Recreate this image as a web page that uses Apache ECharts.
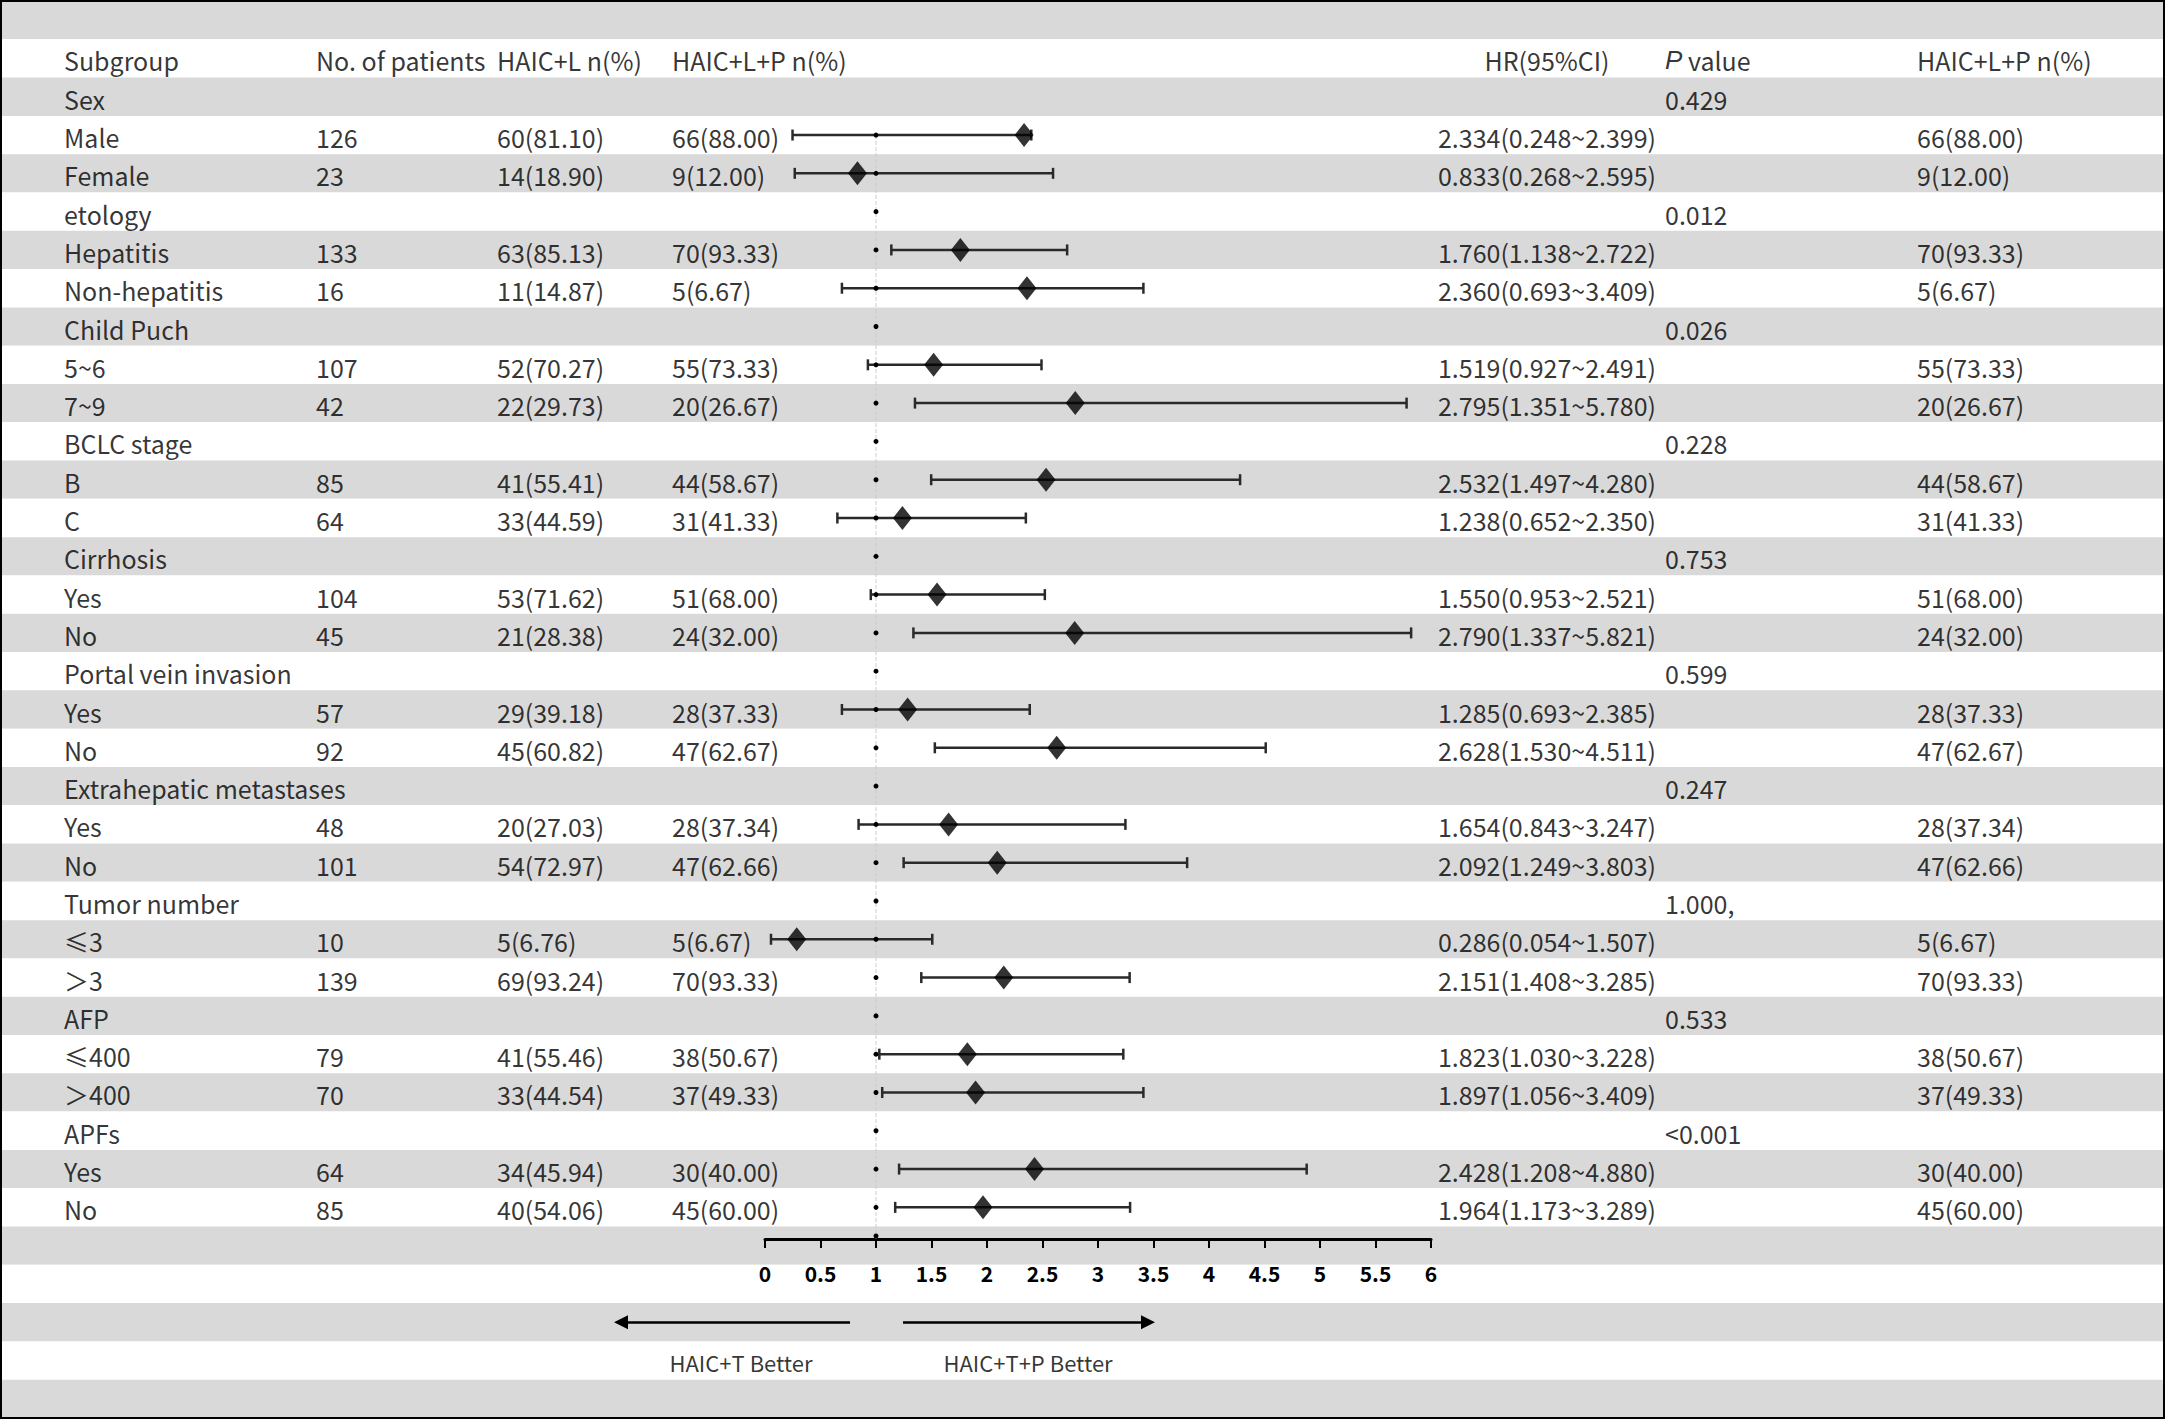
<!DOCTYPE html>
<html><head><meta charset="utf-8">
<script src="https://cdn.jsdelivr.net/npm/echarts@6/dist/echarts.min.js"></script>
<style>html,body{margin:0;padding:0;background:#fff}#c{width:2165px;height:1419px}</style>
</head><body><div id="c"></div>
<script>
// ---------------- data ----------------
const headers = ['Subgroup', 'No. of patients', 'HAIC+L n(%)', 'HAIC+L+P n(%)', 'HR(95%CI)', '{i|P} value', 'HAIC+L+P n(%)'];
const subgroups = ['Sex','Male','Female','etology','Hepatitis','Non-hepatitis','Child Puch','5~6','7~9','BCLC stage','B','C','Cirrhosis','Yes','No','Portal vein invasion','Yes','No','Extrahepatic metastases','Yes','No','Tumor number','≤3','＞3','AFP','≤400','＞400','APFs','Yes','No'];
const patients = [null,126,23,null,133,16,null,107,42,null,85,64,null,104,45,null,57,92,null,48,101,null,10,139,null,79,70,null,64,85];
const haicL = [null,'60(81.10)','14(18.90)',null,'63(85.13)','11(14.87)',null,'52(70.27)','22(29.73)',null,'41(55.41)','33(44.59)',null,'53(71.62)','21(28.38)',null,'29(39.18)','45(60.82)',null,'20(27.03)','54(72.97)',null,'5(6.76)','69(93.24)',null,'41(55.46)','33(44.54)',null,'34(45.94)','40(54.06)'];
const haicLP = [null,'66(88.00)','9(12.00)',null,'70(93.33)','5(6.67)',null,'55(73.33)','20(26.67)',null,'44(58.67)','31(41.33)',null,'51(68.00)','24(32.00)',null,'28(37.33)','47(62.67)',null,'28(37.34)','47(62.66)',null,'5(6.67)','70(93.33)',null,'38(50.67)','37(49.33)',null,'30(40.00)','45(60.00)'];
const hr = [null,2.334,0.833,null,1.760,2.360,null,1.519,2.795,null,2.532,1.238,null,1.550,2.790,null,1.285,2.628,null,1.654,2.092,null,0.286,2.151,null,1.823,1.897,null,2.428,1.964];
const ciLow = [null,0.248,0.268,null,1.138,0.693,null,0.927,1.351,null,1.497,0.652,null,0.953,1.337,null,0.693,1.530,null,0.843,1.249,null,0.054,1.408,null,1.030,1.056,null,1.208,1.173];
const ciHigh = [null,2.399,2.595,null,2.722,3.409,null,2.491,5.780,null,4.280,2.350,null,2.521,5.821,null,2.385,4.511,null,3.247,3.803,null,1.507,3.285,null,3.228,3.409,null,4.880,3.289];
const pValues = ['0.429',null,null,'0.012',null,null,'0.026',null,null,'0.228',null,null,'0.753',null,null,'0.599',null,null,'0.247',null,null,'1.000,',null,null,'0.533',null,null,'<0.001',null,null];
const lastCol = haicLP;
const nullValue = 1;
const xMin = 0, xMax = 6, xStep = 0.5;
const betterLabels = ['HAIC+T Better', 'HAIC+T+P Better'];

// ---------------- layout ----------------
const FONT = "'Noto Sans CJK SC', 'Liberation Sans', sans-serif";
const NROWS = 37, FIRST = 2, HEADER = 1, ARROWROW = 34, BETTERROW = 35;
const rowCats = Array.from({length: NROWS}, (_, i) => 'r' + i);
const colX = [64, 316, 497, 672, 1547, 1665, 1917];
const TXT = 25;
const forestLeft = 765, forestWidth = 666;

const leftItems = [], centerItems = [];
headers.forEach((h, j) => {
  if (j === 4) centerItems.push([colX[j], HEADER, h]);
  else leftItems.push([colX[j], HEADER, h]);
});
subgroups.forEach((s, i) => {
  const r = FIRST + i;
  leftItems.push([colX[0], r, s]);
  if (patients[i] != null) leftItems.push([colX[1], r, String(patients[i])]);
  if (haicL[i] != null) leftItems.push([colX[2], r, haicL[i]]);
  if (haicLP[i] != null) leftItems.push([colX[3], r, haicLP[i]]);
  if (hr[i] != null) centerItems.push([colX[4], r, hr[i].toFixed(3) + '(' + ciLow[i].toFixed(3) + '~' + ciHigh[i].toFixed(3) + ')']);
  if (pValues[i] != null) leftItems.push([colX[5], r, pValues[i]]);
  if (lastCol[i] != null) leftItems.push([colX[6], r, lastCol[i]]);
});
const betterItems = [
  {value: [741, BETTERROW, betterLabels[0]]},
  {value: [1028, BETTERROW, betterLabels[1]]}
];

const ciData = [], diamondData = [], nullData = [];
subgroups.forEach((s, i) => {
  const r = FIRST + i;
  if (hr[i] != null) { ciData.push([ciLow[i], ciHigh[i], r]); diamondData.push([hr[i], r]); }
  if (i >= 1) nullData.push([nullValue, r]);
});

const chart = echarts.init(document.getElementById('c'), null, {renderer: 'svg'});
chart.setOption({
  animation: false,
  backgroundColor: '#fff',
  textStyle: {fontFamily: FONT},
  grid: [
    {left: 0, top: 1, width: 2165, height: 1417, outerBoundsMode: 'none', containLabel: false},
    {left: forestLeft, top: 1, width: forestWidth, height: 1417, outerBoundsMode: 'none', containLabel: false},
    {left: forestLeft, top: 1206, width: forestWidth, height: 33, outerBoundsMode: 'none', containLabel: false}
  ],
  xAxis: [
    {gridIndex: 0, type: 'value', min: 0, max: 2165, show: false},
    {gridIndex: 1, type: 'value', min: xMin, max: xMax, show: false},
    {gridIndex: 2, type: 'value', min: xMin, max: xMax, interval: xStep,
      axisLine: {show: true, onZero: false, lineStyle: {color: '#000', width: 3}},
      axisTick: {show: true, length: 9, lineStyle: {color: '#000', width: 2}},
      axisLabel: {show: true, margin: 23, color: '#000', fontSize: 21, fontWeight: 'bold', fontFamily: FONT},
      splitLine: {show: false}}
  ],
  yAxis: [
    {gridIndex: 0, type: 'category', data: rowCats, inverse: true,
      axisLine: {show: false}, axisTick: {show: false}, axisLabel: {show: false}, splitLine: {show: false},
      splitArea: {show: true, areaStyle: {color: ['#d9d9d9', '#ffffff']}}},
    {gridIndex: 1, type: 'category', data: rowCats, inverse: true, show: false},
    {gridIndex: 2, type: 'value', min: 0, max: 1, show: false}
  ],
  graphic: [{type: 'rect', z: 100, silent: true, shape: {x: 1, y: 1, width: 2163, height: 1417},
    style: {fill: 'none', stroke: '#000', lineWidth: 2}}],
  series: [
    {type: 'scatter', xAxisIndex: 0, yAxisIndex: 0, data: leftItems, symbolSize: 1,
      itemStyle: {color: 'rgba(0,0,0,0)'}, silent: true, z: 5,
      label: {show: true, position: 'inside', align: 'left', verticalAlign: 'middle', offset: [0, 2],
        color: '#000', fontSize: TXT, fontFamily: FONT, formatter: p => p.value[2],
        rich: {i: {fontStyle: 'italic', fontSize: TXT + 1, fontFamily: "'Liberation Sans', sans-serif", color: '#000'}}}},
    {type: 'scatter', xAxisIndex: 0, yAxisIndex: 0, data: centerItems, symbolSize: 1,
      itemStyle: {color: 'rgba(0,0,0,0)'}, silent: true, z: 5,
      label: {show: true, position: 'inside', align: 'center', verticalAlign: 'middle', offset: [0, 2],
        color: '#000', fontSize: TXT, fontFamily: FONT, formatter: p => p.value[2]}},
    {type: 'scatter', xAxisIndex: 0, yAxisIndex: 0, data: betterItems, symbolSize: 1,
      itemStyle: {color: 'rgba(0,0,0,0)'}, silent: true, z: 5,
      label: {show: true, position: 'inside', align: 'center', verticalAlign: 'middle', offset: [0, 1],
        color: '#000', fontSize: 22, fontFamily: FONT, formatter: p => p.value[2]}},
    {type: 'lines', coordinateSystem: 'cartesian2d', xAxisIndex: 0, yAxisIndex: 0, z: 6, silent: true,
      symbol: ['none', 'triangle'], symbolSize: 14,
      lineStyle: {color: '#000', width: 2.5, opacity: 1, curveness: 0},
      data: [{coords: [[850, ARROWROW], [621, ARROWROW]]}, {coords: [[903, ARROWROW], [1148, ARROWROW]]}]},
    {type: 'custom', xAxisIndex: 1, yAxisIndex: 1, z: 7, silent: true, data: ciData,
      encode: {x: [0, 1], y: 2},
      renderItem: function (params, api) {
        const a = api.coord([api.value(0), api.value(2)]);
        const b = api.coord([api.value(1), api.value(2)]);
        const c = 5.5, st = {stroke: '#2a2a2a', lineWidth: 2.5};
        return {type: 'group', children: [
          {type: 'line', shape: {x1: a[0], y1: a[1], x2: b[0], y2: b[1]}, style: st},
          {type: 'line', shape: {x1: a[0], y1: a[1] - c, x2: a[0], y2: a[1] + c}, style: st},
          {type: 'line', shape: {x1: b[0], y1: b[1] - c, x2: b[0], y2: b[1] + c}, style: st}
        ]};
      }},
    {type: 'line', xAxisIndex: 1, yAxisIndex: 1, z: 8, silent: true, data: nullData,
      symbol: 'circle', symbolSize: 5, itemStyle: {color: '#000'},
      lineStyle: {color: '#cccccc', width: 1, type: 'dashed'}},
    {type: 'line', xAxisIndex: 2, yAxisIndex: 2, z: 8, silent: true,
      data: [{value: [nullValue, 1], symbol: 'none'}, {value: [nullValue, 0], symbol: 'circle', symbolSize: 5, symbolOffset: [0, -3]}],
      itemStyle: {color: '#000'}, lineStyle: {color: '#cccccc', width: 1, type: 'dashed'}},
    {type: 'scatter', xAxisIndex: 1, yAxisIndex: 1, z: 9, silent: true, data: diamondData,
      symbol: 'diamond', symbolSize: [19, 24], itemStyle: {color: '#000'}}
  ]
});
</script></body></html>
